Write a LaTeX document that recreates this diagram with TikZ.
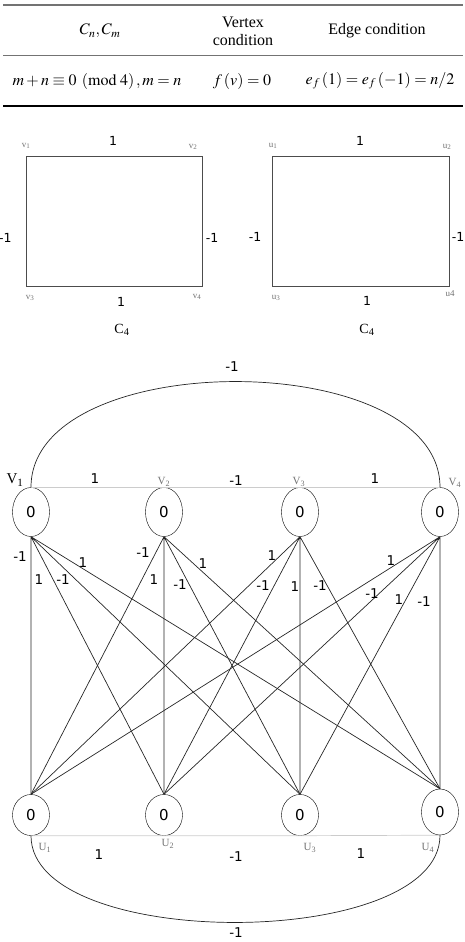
\documentclass[tikz,border=0pt]{standalone}
\usepackage{mathptmx}
\usepackage{fontspec}
\setmainfont{Liberation Serif}
\newfontfamily\numfont{DejaVu Sans}
\usetikzlibrary{shapes.geometric}
\begin{document}
\begin{tikzpicture}[x=1pt,y=-1pt,
  tab/.style={font=\fontsize{16}{18}\selectfont},
  num/.style={font=\numfont\fontsize{13.5}{15}\selectfont},
  sqnum/.style={font=\numfont\fontsize{12.5}{14}\selectfont},
  sqlab/.style={font=\fontsize{9}{10}\selectfont, text=black!55},
  vlab/.style={font=\fontsize{11}{12}\selectfont, text=black!55},
  vtx/.style={draw, ellipse, inner sep=0pt, minimum width=37pt, minimum height=49pt,
    font=\numfont\fontsize{15}{16}\selectfont},
  utx/.style={vtx, minimum height=41pt},
  ed/.style={black!85, line width=0.7pt},
  cyc/.style={black!20, line width=0.7pt}]
\useasboundingbox (0,0) rectangle (464,942);

% table
\draw[black!55, line width=1.6pt] (3,5) -- (463,5);
\draw[black!55, line width=0.8pt] (3,55) -- (463,55);
\draw[black, line width=1.3pt] (3,106) -- (463,106);
\node[tab] (h1) at (100,31) {$C_n,C_m$};
\node[tab, align=center] (h2) at (243,31) {Vertex\\condition};
\node[tab] (h3) at (377,31) {Edge condition};
\node[tab] (r1) at (97,81) {$m+n\equiv 0\;\left(\mathrm{mod}\;4\right),m=n$};
\node[tab] (r2) at (242,81) {$f\left(v\right)=0$};
\node[tab] (r3) at (380,81) {$e_f\left(1\right)=e_f\left(-1\right)=n/2$};

% left C4
\coordinate (a1) at (26,156);
\coordinate (a2) at (202,156);
\coordinate (a3) at (26,286);
\coordinate (a4) at (202,286);
\draw[black!70, line width=0.9pt] (a1) -- (a2) -- (a4) -- (a3) -- cycle;
\node[sqlab] (la1) at (26,146) {v\textsubscript{1}};
\node[sqlab] (la2) at (193,147) {v\textsubscript{2}};
\node[sqlab] (la3) at (30,298) {v\textsubscript{3}};
\node[sqlab] (la4) at (197,297) {v\textsubscript{4}};
\node[sqnum] (ea1) at (113,141) {1};
\node[sqnum, anchor=east] (ea2) at (15,238) {-1};
\node[sqnum] (ea3) at (212,238) {-1};
\node[sqnum] (ea4) at (121,302) {1};
\node[font=\fontsize{14}{16}\selectfont] (ca) at (122,330) {C\textsubscript{4}};

% right C4
\coordinate (b1) at (272,156);
\coordinate (b2) at (449,156);
\coordinate (b3) at (272,286);
\coordinate (b4) at (449,286);
\draw[black!70, line width=0.9pt] (b1) -- (b2) -- (b4) -- (b3) -- cycle;
\node[sqlab] (lb1) at (273,146) {u\textsubscript{1}};
\node[sqlab] (lb2) at (447,147) {u\textsubscript{2}};
\node[sqlab] (lb3) at (276,298) {u\textsubscript{3}};
\node[sqlab] (lb4) at (450,294) {u4};
\node[sqnum] (eb1) at (360,141) {1};
\node[sqnum] (eb2) at (255,237) {-1};
\node[sqnum] (eb3) at (458,237) {-1};
\node[sqnum] (eb4) at (367,301) {1};
\node[font=\fontsize{14}{16}\selectfont] (cb) at (367,330) {C\textsubscript{4}};

% C4 x C4 graph
\node[vtx] (v1) at (31,512) {0};
\node[vtx] (v2) at (164,512) {0};
\node[vtx] (v3) at (300,512) {0};
\node[vtx] (v4) at (440,512) {0};
\node[utx] (u1) at (31,815) {0};
\node[utx] (u2) at (164,815) {0};
\node[utx] (u3) at (300,815) {0};
\node[utx, minimum height=46pt] (u4) at (440,812) {0};

\draw[cyc] (v1.north) -- (v2.north) -- (v3.north) -- (v4.north);
\draw[cyc] (u1.south) -- (u2.south) -- (u3.south) -- (u4.south);
\draw[ed] (v1.north) .. controls +(0,-141) and +(0,-141) .. (v4.north);
\draw[ed] (u1.south) .. controls +(0,116) and +(0,116) .. (u4.south);

\draw[ed] (v1.south) -- (u1.north) (v1.south) -- (u2.north)
  (v1.south) -- (u3.north) (v1.south) -- (u4.north);
\draw[ed] (v2.south) -- (u1.north) (v2.south) -- (u2.north)
  (v2.south) -- (u3.north) (v2.south) -- (u4.north);
\draw[ed] (v3.south) -- (u1.north) (v3.south) -- (u2.north)
  (v3.south) -- (u3.north) (v3.south) -- (u4.north);
\draw[ed] (v4.south) -- (u1.north) (v4.south) -- (u2.north)
  (v4.south) -- (u3.north) (v4.south) -- (u4.north);

% vertex names
\node[font=\fontsize{15}{16}\selectfont] (nv1) at (15,480) {V\textsubscript{1}};
\node[vlab, anchor=south] (nv2) at (164,490) {V\textsubscript{2}};
\node[vlab, anchor=south] (nv3) at (299,490) {V\textsubscript{3}};
\node[vlab, anchor=south] (nv4) at (455,491) {V\textsubscript{4}};
\node[vlab] (nu1) at (45,848) {U\textsubscript{1}};
\node[vlab] (nu2) at (168,844) {U\textsubscript{2}};
\node[vlab] (nu3) at (310,848) {U\textsubscript{3}};
\node[vlab] (nu4) at (428,848) {U\textsubscript{4}};

% cycle labels
\node[num] (t0) at (232,367) {-1};
\node[num] (t1) at (95,479) {1};
\node[num] (t2) at (236,481) {-1};
\node[num] (t3) at (375,479) {1};
\node[num] (s1) at (99,855) {1};
\node[num] (s2) at (236,857) {-1};
\node[num] (s3) at (361,854) {1};
\node[num] (s0) at (236,933) {-1};

% bipartite labels
\node[num] (p11) at (20,557) {-1};
\node[num] (p12) at (39,580) {1};
\node[num] (p13) at (63,580) {-1};
\node[num] (p14) at (83,563) {1};
\node[num] (p21) at (143,553) {-1};
\node[num] (p22) at (154,580) {1};
\node[num] (p23) at (180,585) {-1};
\node[num] (p24) at (203,564) {1};
\node[num] (p31) at (272,556) {1};
\node[num] (p32) at (263,586) {-1};
\node[num] (p33) at (295,587) {1};
\node[num] (p34) at (320,586) {-1};
\node[num] (p41) at (391,561) {1};
\node[num] (p42) at (372,594) {-1};
\node[num] (p43) at (399,600) {1};
\node[num] (p44) at (424,602) {-1};
\end{tikzpicture}
\end{document}
